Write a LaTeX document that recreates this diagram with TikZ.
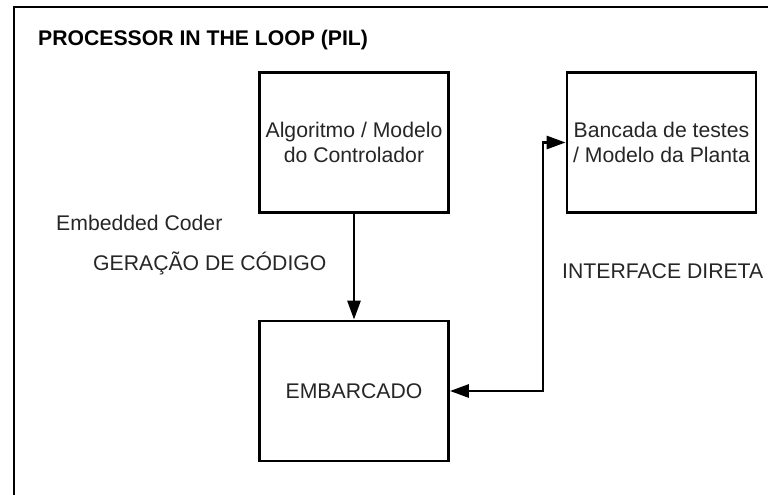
\documentclass[tikz,border=0pt]{standalone}
\usepackage{fontspec}
\setmainfont{Liberation Sans}
\usetikzlibrary{arrows.meta}

\tikzset{
  bloco/.style={draw, line width=2.8pt, minimum width=189pt, minimum height=140pt,
    align=center, font=\fontsize{21.2}{25}\selectfont, text=black!85},
  rotulo/.style={font=\fontsize{21.2}{25}\selectfont, text=black!85, inner sep=0pt},
  seta/.style={line width=2.8pt, -{Triangle[length=19pt,width=13pt]}}
}

\begin{document}
\begin{tikzpicture}[x=1pt,y=-1pt]
\useasboundingbox (0,0) rectangle (768,495);
\fill[white] (0,0) rectangle (768,495);

% moldura
\draw[line width=2.8pt] (14,495) -- (14,7) -- (768,7);
\node[anchor=west, inner sep=0pt, font=\fontsize{21.2}{25}\selectfont\bfseries] (titulo) at (38,40)
  {PROCESSOR IN THE LOOP (PIL)};

% blocos
\node[bloco] (alg) at (354,142.5) {Algoritmo / Modelo\\do Controlador};
\node[bloco] (banc) at (661.5,142.5) {Bancada de testes\\/ Modelo da Planta};
\node[bloco] (emb) at (354,391) {EMBARCADO};

% textos
\node[rotulo, anchor=west] (coder) at (56,223) {Embedded Coder};
\node[rotulo, anchor=west] (geracao) at (93,263) {GERAÇÃO DE CÓDIGO};
\node[rotulo, anchor=west] (interf) at (562,271) {INTERFACE DIRETA};

% ligacoes
\coordinate (canto) at (543,142.5);
\draw[seta] (alg) -- (emb);
\draw[seta, {Triangle[length=19pt,width=13pt]}-{Triangle[length=19pt,width=13pt]}]
  (emb.east) -| (canto) -- (banc.west);

\end{tikzpicture}
\end{document}
